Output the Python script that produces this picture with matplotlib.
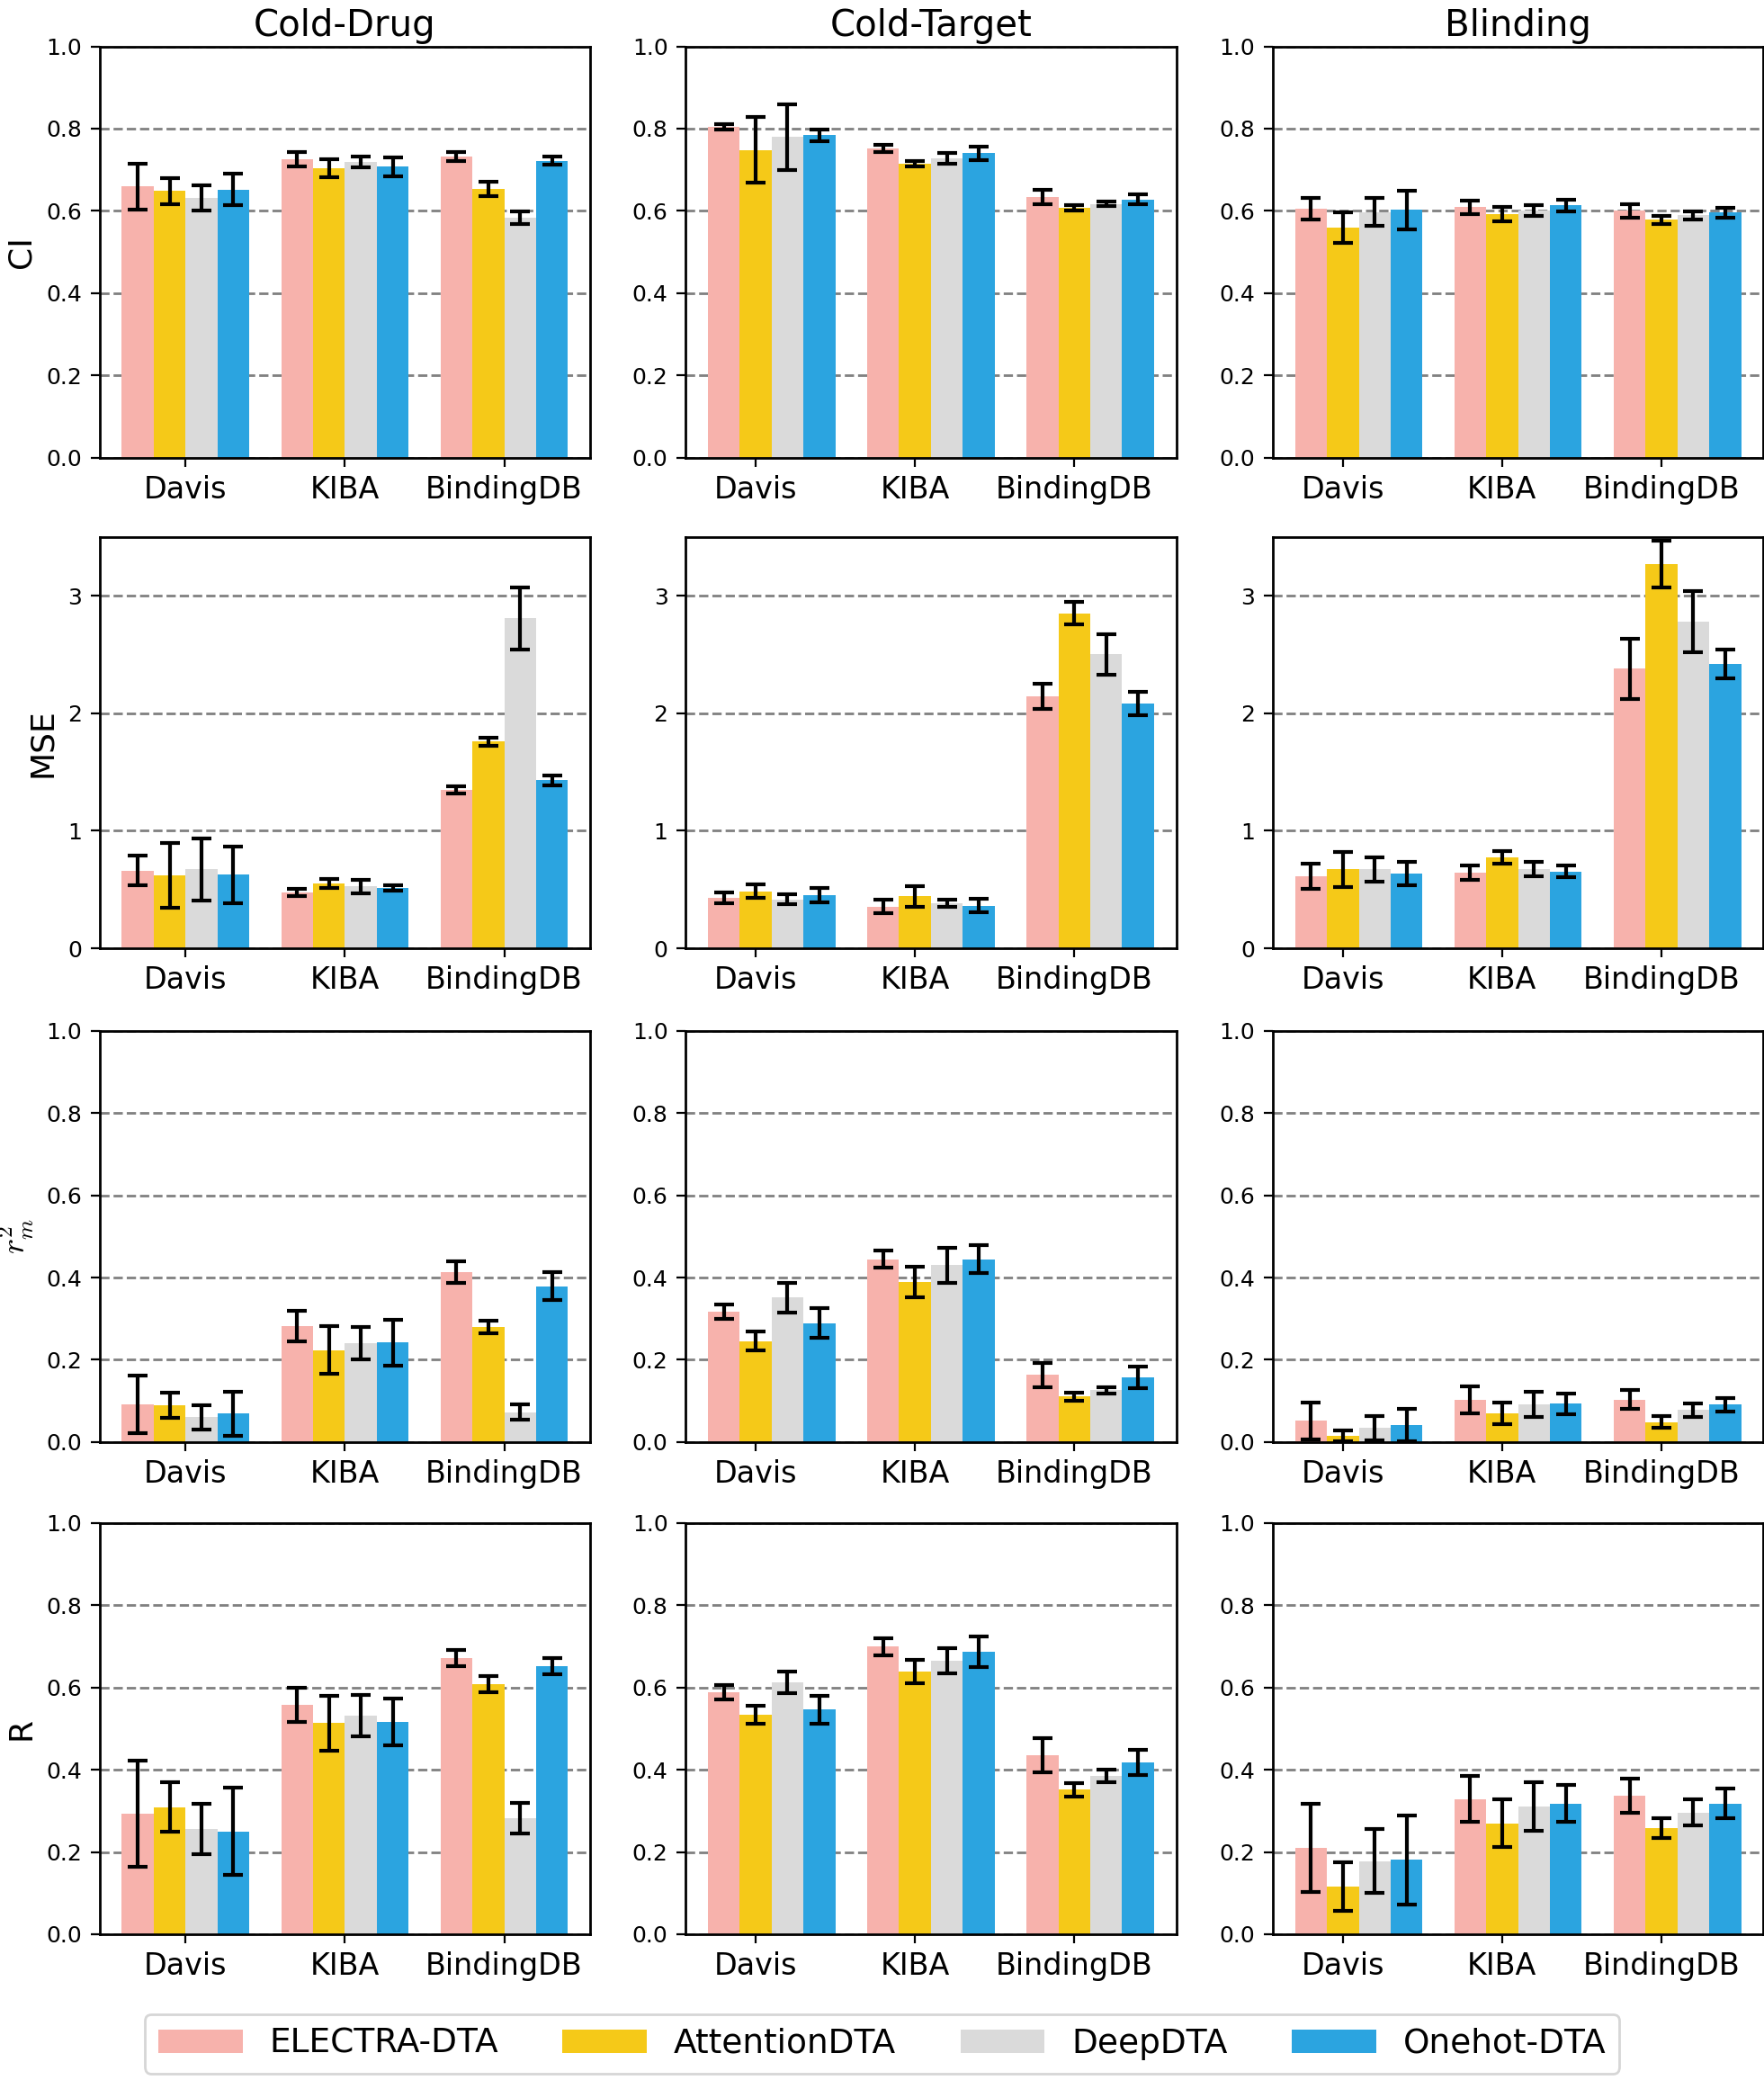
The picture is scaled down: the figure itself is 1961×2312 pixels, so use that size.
import numpy as np
import matplotlib
matplotlib.use('Agg')
from matplotlib import pyplot as plt

plt.rcParams['mathtext.fontset'] = 'cm'

settings = ['Cold-Drug', 'Cold-Target', 'Blinding']
datasets = ['Davis', 'KIBA', 'BindingDB']
models = ['ELECTRA-DTA', 'AttentionDTA', 'DeepDTA', 'Onehot-DTA']
colors = ['#f7b2ac', '#f5c918', '#dadada', '#2ba4e0']
metric_names = ['CI', 'MSE', r'$r_m^2$', 'R']

# each: [setting][dataset][model]
ci_mean = [
    [[0.659, 0.648, 0.632, 0.652], [0.726, 0.704, 0.719, 0.707], [0.732, 0.653, 0.583, 0.722]],
    [[0.804, 0.748, 0.780, 0.784], [0.751, 0.714, 0.727, 0.740], [0.634, 0.607, 0.617, 0.628]],
    [[0.605, 0.560, 0.597, 0.602], [0.609, 0.592, 0.601, 0.613], [0.600, 0.578, 0.589, 0.596]],
]
ci_err = [
    [[0.055, 0.032, 0.031, 0.038], [0.018, 0.022, 0.014, 0.022], [0.011, 0.018, 0.015, 0.010]],
    [[0.007, 0.080, 0.080, 0.014], [0.009, 0.007, 0.013, 0.016], [0.017, 0.007, 0.006, 0.012]],
    [[0.027, 0.037, 0.034, 0.047], [0.016, 0.018, 0.014, 0.014], [0.016, 0.009, 0.010, 0.012]],
]
mse_mean = [
    [[0.661, 0.622, 0.671, 0.625], [0.474, 0.551, 0.525, 0.515], [1.347, 1.759, 2.807, 1.429]],
    [[0.430, 0.484, 0.417, 0.453], [0.356, 0.443, 0.384, 0.364], [2.143, 2.850, 2.502, 2.082]],
    [[0.612, 0.671, 0.673, 0.635], [0.645, 0.776, 0.673, 0.653], [2.379, 3.270, 2.778, 2.423]],
]
mse_err = [
    [[0.128, 0.278, 0.264, 0.243], [0.031, 0.040, 0.055, 0.024], [0.029, 0.032, 0.265, 0.045]],
    [[0.044, 0.058, 0.040, 0.059], [0.059, 0.087, 0.032, 0.060], [0.109, 0.095, 0.172, 0.097]],
    [[0.108, 0.150, 0.104, 0.100], [0.060, 0.054, 0.061, 0.049], [0.257, 0.197, 0.260, 0.123]],
]
rm2_mean = [
    [[0.092, 0.089, 0.060, 0.069], [0.282, 0.223, 0.240, 0.242], [0.413, 0.280, 0.073, 0.379]],
    [[0.317, 0.245, 0.351, 0.289], [0.445, 0.389, 0.430, 0.445], [0.163, 0.111, 0.126, 0.158]],
    [[0.052, 0.015, 0.034, 0.041], [0.103, 0.070, 0.091, 0.093], [0.103, 0.049, 0.078, 0.091]],
]
rm2_err = [
    [[0.070, 0.031, 0.029, 0.054], [0.038, 0.058, 0.040, 0.056], [0.026, 0.016, 0.019, 0.034]],
    [[0.018, 0.023, 0.036, 0.036], [0.021, 0.038, 0.042, 0.033], [0.030, 0.010, 0.008, 0.026]],
    [[0.045, 0.014, 0.030, 0.040], [0.033, 0.026, 0.031, 0.025], [0.023, 0.015, 0.016, 0.017]],
]
r_mean = [
    [[0.293, 0.309, 0.255, 0.250], [0.558, 0.513, 0.532, 0.516], [0.672, 0.608, 0.282, 0.652]],
    [[0.588, 0.533, 0.613, 0.546], [0.699, 0.639, 0.665, 0.687], [0.435, 0.351, 0.385, 0.418]],
    [[0.210, 0.116, 0.178, 0.181], [0.329, 0.270, 0.311, 0.318], [0.337, 0.257, 0.296, 0.318]],
]
r_err = [
    [[0.128, 0.060, 0.061, 0.106], [0.041, 0.067, 0.050, 0.056], [0.020, 0.019, 0.038, 0.019]],
    [[0.018, 0.022, 0.026, 0.034], [0.021, 0.029, 0.031, 0.037], [0.042, 0.017, 0.015, 0.030]],
    [[0.108, 0.059, 0.077, 0.108], [0.056, 0.057, 0.059, 0.044], [0.042, 0.024, 0.031, 0.036]],
]

all_means = [ci_mean, mse_mean, rm2_mean, r_mean]
all_errs = [ci_err, mse_err, rm2_err, r_err]

fig = plt.figure(figsize=(9.805, 11.56), dpi=200)

lefts = [0.0564, 0.3886, 0.7215]
bottoms = [0.780, 0.5441, 0.3067, 0.0701]
w = 0.2782
h = 0.1977
width = 0.2
x = np.arange(len(datasets))

for r in range(4):
    for c in range(3):
        ax = fig.add_axes([lefts[c], bottoms[r], w, h])
        means = np.array(all_means[r][c])
        errs = np.array(all_errs[r][c])
        for j in range(len(models)):
            ax.bar(x + (j - 1.5) * width, means[:, j], width, yerr=errs[:, j],
                   color=colors[j], label=models[j], capsize=4,
                   error_kw=dict(elinewidth=1.5, capthick=1.5, ecolor='black'))
        if c == 0:
            ax.set_xticks(x)
        else:
            ax.set_xticks(x - 0.1)
        ax.set_xticklabels(datasets, fontsize=12)
        if r == 1:
            ax.set_ylim(0, 3.5)
            ax.set_yticks([0, 1, 2, 3])
        else:
            ax.set_ylim(0, 1.0)
            ax.set_yticks([0.0, 0.2, 0.4, 0.6, 0.8, 1.0])
            ax.set_yticklabels(['0.0', '0.2', '0.4', '0.6', '0.8', '1.0'])
        ax.tick_params(axis='y', labelsize=9)
        ax.yaxis.grid(True, linestyle='--', color='gray', linewidth=1.0)
        ax.set_axisbelow(True)
        for s in ax.spines.values():
            s.set_linewidth(1.0)
        if r == 0:
            ax.set_title(settings[c], fontsize=14.5, pad=4)
        if c == 0:
            ax.set_ylabel(metric_names[r], fontsize=13)

handles, labels = ax.get_legend_handles_labels()
fig.legend(handles, labels, loc='lower center', bbox_to_anchor=(0.5, -0.005), ncol=4,
           fontsize=13.5, handlelength=2.5, columnspacing=1.9, fancybox=True)

plt.savefig('out.png', dpi=200)
